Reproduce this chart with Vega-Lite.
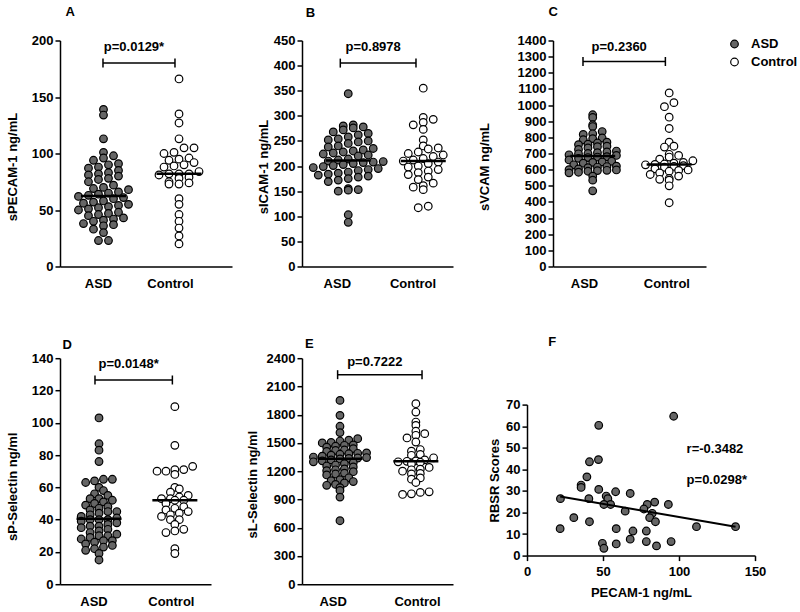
{
"$schema": "https://vega.github.io/schema/vega-lite/v6.json",
"padding": {"left": 6, "top": 5.5, "right": 0, "bottom": 0},
"background": "white",
"config": {
  "font": "Liberation Sans",
  "view": {"stroke": null},
  "axis": {"labelFont": "Liberation Sans", "labelFontSize": 13, "labelFontWeight": "bold", "labelColor": "#000", "titleFont": "Liberation Sans", "titleFontSize": 13, "titleFontWeight": "bold", "titleColor": "#000", "domainColor": "#000", "domainWidth": 1.5, "tickColor": "#000", "tickWidth": 1.5, "tickSize": 5, "grid": false, "labelPadding": 2, "labelOverlap": false},
  "title": {"font": "Liberation Sans", "fontSize": 13, "fontWeight": "bold", "color": "#000", "anchor": "start", "frame": "group", "baseline": "alphabetic"},
  "text": {"font": "Liberation Sans", "fontSize": 13, "fontWeight": "bold", "color": "#000"},
  "legend": {"labelFont": "Liberation Sans", "labelFontSize": 13, "labelFontWeight": "bold", "labelColor": "#000", "symbolSize": 58, "symbolStrokeColor": "#000", "symbolStrokeWidth": 1.2, "symbolType": "circle", "rowPadding": 4, "labelOffset": 10, "padding": 0}
},
"datasets": {
  "A": [
    {"group":"ASD","v":139},{"group":"ASD","v":134},{"group":"ASD","v":113},{"group":"ASD","v":101},{"group":"ASD","v":98},{"group":"ASD","v":96},{"group":"ASD","v":94},{"group":"ASD","v":91},{"group":"ASD","v":90},{"group":"ASD","v":88},{"group":"ASD","v":87},{"group":"ASD","v":85},{"group":"ASD","v":83},{"group":"ASD","v":82},{"group":"ASD","v":81},{"group":"ASD","v":80},{"group":"ASD","v":78},{"group":"ASD","v":77},{"group":"ASD","v":75},{"group":"ASD","v":72},{"group":"ASD","v":70},{"group":"ASD","v":69},{"group":"ASD","v":68},{"group":"ASD","v":66},{"group":"ASD","v":65},{"group":"ASD","v":64},{"group":"ASD","v":63},{"group":"ASD","v":62},{"group":"ASD","v":61},{"group":"ASD","v":60},{"group":"ASD","v":58},{"group":"ASD","v":57},{"group":"ASD","v":56},{"group":"ASD","v":55},{"group":"ASD","v":54},{"group":"ASD","v":53},{"group":"ASD","v":52},{"group":"ASD","v":51},{"group":"ASD","v":50},{"group":"ASD","v":48},{"group":"ASD","v":47},{"group":"ASD","v":46},{"group":"ASD","v":45},{"group":"ASD","v":43},{"group":"ASD","v":42},{"group":"ASD","v":41},{"group":"ASD","v":40},{"group":"ASD","v":38},{"group":"ASD","v":37},{"group":"ASD","v":36},{"group":"ASD","v":33},{"group":"ASD","v":30},{"group":"ASD","v":23},{"group":"ASD","v":23},
    {"group":"Control","v":166},{"group":"Control","v":135},{"group":"Control","v":127},{"group":"Control","v":113},{"group":"Control","v":105},{"group":"Control","v":105},{"group":"Control","v":101},{"group":"Control","v":100},{"group":"Control","v":96},{"group":"Control","v":95},{"group":"Control","v":94},{"group":"Control","v":92},{"group":"Control","v":90},{"group":"Control","v":89},{"group":"Control","v":88},{"group":"Control","v":84},{"group":"Control","v":82},{"group":"Control","v":82},{"group":"Control","v":82},{"group":"Control","v":81},{"group":"Control","v":79},{"group":"Control","v":78},{"group":"Control","v":75},{"group":"Control","v":74},{"group":"Control","v":73},{"group":"Control","v":73},{"group":"Control","v":60},{"group":"Control","v":55},{"group":"Control","v":46},{"group":"Control","v":40},{"group":"Control","v":34},{"group":"Control","v":27},{"group":"Control","v":20}
  ],
  "B": [
    {"group":"ASD","v":344},{"group":"ASD","v":282},{"group":"ASD","v":280},{"group":"ASD","v":278},{"group":"ASD","v":276},{"group":"ASD","v":272},{"group":"ASD","v":268},{"group":"ASD","v":265},{"group":"ASD","v":262},{"group":"ASD","v":258},{"group":"ASD","v":254},{"group":"ASD","v":252},{"group":"ASD","v":250},{"group":"ASD","v":248},{"group":"ASD","v":245},{"group":"ASD","v":240},{"group":"ASD","v":238},{"group":"ASD","v":235},{"group":"ASD","v":232},{"group":"ASD","v":230},{"group":"ASD","v":228},{"group":"ASD","v":226},{"group":"ASD","v":224},{"group":"ASD","v":222},{"group":"ASD","v":220},{"group":"ASD","v":214},{"group":"ASD","v":212},{"group":"ASD","v":210},{"group":"ASD","v":209},{"group":"ASD","v":208},{"group":"ASD","v":207},{"group":"ASD","v":205},{"group":"ASD","v":203},{"group":"ASD","v":201},{"group":"ASD","v":199},{"group":"ASD","v":197},{"group":"ASD","v":195},{"group":"ASD","v":193},{"group":"ASD","v":191},{"group":"ASD","v":188},{"group":"ASD","v":186},{"group":"ASD","v":184},{"group":"ASD","v":182},{"group":"ASD","v":180},{"group":"ASD","v":178},{"group":"ASD","v":175},{"group":"ASD","v":172},{"group":"ASD","v":169},{"group":"ASD","v":155},{"group":"ASD","v":153},{"group":"ASD","v":152},{"group":"ASD","v":150},{"group":"ASD","v":103},{"group":"ASD","v":88},
    {"group":"Control","v":355},{"group":"Control","v":297},{"group":"Control","v":293},{"group":"Control","v":287},{"group":"Control","v":282},{"group":"Control","v":273},{"group":"Control","v":252},{"group":"Control","v":240},{"group":"Control","v":236},{"group":"Control","v":234},{"group":"Control","v":228},{"group":"Control","v":225},{"group":"Control","v":222},{"group":"Control","v":219},{"group":"Control","v":215},{"group":"Control","v":212},{"group":"Control","v":210},{"group":"Control","v":208},{"group":"Control","v":205},{"group":"Control","v":200},{"group":"Control","v":198},{"group":"Control","v":193},{"group":"Control","v":190},{"group":"Control","v":187},{"group":"Control","v":183},{"group":"Control","v":178},{"group":"Control","v":173},{"group":"Control","v":166},{"group":"Control","v":161},{"group":"Control","v":158},{"group":"Control","v":153},{"group":"Control","v":120},{"group":"Control","v":117}
  ],
  "C": [
    {"group":"ASD","v":940},{"group":"ASD","v":923},{"group":"ASD","v":878},{"group":"ASD","v":867},{"group":"ASD","v":836},{"group":"ASD","v":822},{"group":"ASD","v":818},{"group":"ASD","v":796},{"group":"ASD","v":792},{"group":"ASD","v":785},{"group":"ASD","v":770},{"group":"ASD","v":765},{"group":"ASD","v":758},{"group":"ASD","v":755},{"group":"ASD","v":745},{"group":"ASD","v":742},{"group":"ASD","v":735},{"group":"ASD","v":725},{"group":"ASD","v":715},{"group":"ASD","v":710},{"group":"ASD","v":705},{"group":"ASD","v":700},{"group":"ASD","v":698},{"group":"ASD","v":692},{"group":"ASD","v":688},{"group":"ASD","v":680},{"group":"ASD","v":678},{"group":"ASD","v":675},{"group":"ASD","v":670},{"group":"ASD","v":660},{"group":"ASD","v":652},{"group":"ASD","v":648},{"group":"ASD","v":645},{"group":"ASD","v":640},{"group":"ASD","v":630},{"group":"ASD","v":622},{"group":"ASD","v":619},{"group":"ASD","v":616},{"group":"ASD","v":612},{"group":"ASD","v":605},{"group":"ASD","v":600},{"group":"ASD","v":598},{"group":"ASD","v":596},{"group":"ASD","v":594},{"group":"ASD","v":590},{"group":"ASD","v":584},{"group":"ASD","v":580},{"group":"ASD","v":560},{"group":"ASD","v":535},{"group":"ASD","v":469},
    {"group":"Control","v":1075},{"group":"Control","v":1015},{"group":"Control","v":990},{"group":"Control","v":925},{"group":"Control","v":855},{"group":"Control","v":770},{"group":"Control","v":745},{"group":"Control","v":740},{"group":"Control","v":695},{"group":"Control","v":688},{"group":"Control","v":678},{"group":"Control","v":665},{"group":"Control","v":655},{"group":"Control","v":645},{"group":"Control","v":640},{"group":"Control","v":635},{"group":"Control","v":632},{"group":"Control","v":630},{"group":"Control","v":625},{"group":"Control","v":620},{"group":"Control","v":615},{"group":"Control","v":605},{"group":"Control","v":598},{"group":"Control","v":595},{"group":"Control","v":590},{"group":"Control","v":580},{"group":"Control","v":570},{"group":"Control","v":560},{"group":"Control","v":545},{"group":"Control","v":540},{"group":"Control","v":535},{"group":"Control","v":500},{"group":"Control","v":395}
  ],
  "D": [
    {"group":"ASD","v":103},{"group":"ASD","v":87},{"group":"ASD","v":83},{"group":"ASD","v":76},{"group":"ASD","v":65},{"group":"ASD","v":65},{"group":"ASD","v":64},{"group":"ASD","v":63},{"group":"ASD","v":60},{"group":"ASD","v":58},{"group":"ASD","v":56},{"group":"ASD","v":55},{"group":"ASD","v":53},{"group":"ASD","v":53},{"group":"ASD","v":52},{"group":"ASD","v":51},{"group":"ASD","v":50},{"group":"ASD","v":49},{"group":"ASD","v":48},{"group":"ASD","v":47},{"group":"ASD","v":46},{"group":"ASD","v":45},{"group":"ASD","v":45},{"group":"ASD","v":44},{"group":"ASD","v":43},{"group":"ASD","v":42},{"group":"ASD","v":41},{"group":"ASD","v":40},{"group":"ASD","v":40},{"group":"ASD","v":40},{"group":"ASD","v":39},{"group":"ASD","v":38},{"group":"ASD","v":37},{"group":"ASD","v":36},{"group":"ASD","v":36},{"group":"ASD","v":35},{"group":"ASD","v":34},{"group":"ASD","v":33},{"group":"ASD","v":32},{"group":"ASD","v":31},{"group":"ASD","v":30},{"group":"ASD","v":30},{"group":"ASD","v":29},{"group":"ASD","v":28},{"group":"ASD","v":27},{"group":"ASD","v":27},{"group":"ASD","v":26},{"group":"ASD","v":25},{"group":"ASD","v":24},{"group":"ASD","v":23},{"group":"ASD","v":22},{"group":"ASD","v":21},{"group":"ASD","v":19},{"group":"ASD","v":15},
    {"group":"Control","v":110},{"group":"Control","v":86},{"group":"Control","v":73},{"group":"Control","v":71},{"group":"Control","v":71},{"group":"Control","v":70},{"group":"Control","v":70},{"group":"Control","v":68},{"group":"Control","v":60},{"group":"Control","v":59},{"group":"Control","v":57},{"group":"Control","v":55},{"group":"Control","v":54},{"group":"Control","v":53},{"group":"Control","v":53},{"group":"Control","v":52},{"group":"Control","v":52},{"group":"Control","v":50},{"group":"Control","v":48},{"group":"Control","v":47},{"group":"Control","v":46},{"group":"Control","v":45},{"group":"Control","v":44},{"group":"Control","v":43},{"group":"Control","v":42},{"group":"Control","v":40},{"group":"Control","v":40},{"group":"Control","v":37},{"group":"Control","v":34},{"group":"Control","v":33},{"group":"Control","v":32},{"group":"Control","v":22},{"group":"Control","v":19}
  ],
  "E": [
    {"group":"ASD","v":1952},{"group":"ASD","v":1793},{"group":"ASD","v":1677},{"group":"ASD","v":1610},{"group":"ASD","v":1545},{"group":"ASD","v":1530},{"group":"ASD","v":1520},{"group":"ASD","v":1505},{"group":"ASD","v":1500},{"group":"ASD","v":1480},{"group":"ASD","v":1475},{"group":"ASD","v":1465},{"group":"ASD","v":1455},{"group":"ASD","v":1440},{"group":"ASD","v":1425},{"group":"ASD","v":1420},{"group":"ASD","v":1410},{"group":"ASD","v":1395},{"group":"ASD","v":1390},{"group":"ASD","v":1385},{"group":"ASD","v":1380},{"group":"ASD","v":1370},{"group":"ASD","v":1360},{"group":"ASD","v":1350},{"group":"ASD","v":1345},{"group":"ASD","v":1340},{"group":"ASD","v":1335},{"group":"ASD","v":1330},{"group":"ASD","v":1320},{"group":"ASD","v":1310},{"group":"ASD","v":1300},{"group":"ASD","v":1290},{"group":"ASD","v":1280},{"group":"ASD","v":1265},{"group":"ASD","v":1255},{"group":"ASD","v":1245},{"group":"ASD","v":1225},{"group":"ASD","v":1215},{"group":"ASD","v":1205},{"group":"ASD","v":1195},{"group":"ASD","v":1180},{"group":"ASD","v":1170},{"group":"ASD","v":1160},{"group":"ASD","v":1130},{"group":"ASD","v":1110},{"group":"ASD","v":1100},{"group":"ASD","v":1090},{"group":"ASD","v":1075},{"group":"ASD","v":1060},{"group":"ASD","v":1050},{"group":"ASD","v":1025},{"group":"ASD","v":995},{"group":"ASD","v":925},{"group":"ASD","v":674},
    {"group":"Control","v":1917},{"group":"Control","v":1828},{"group":"Control","v":1722},{"group":"Control","v":1687},{"group":"Control","v":1624},{"group":"Control","v":1599},{"group":"Control","v":1581},{"group":"Control","v":1553},{"group":"Control","v":1510},{"group":"Control","v":1430},{"group":"Control","v":1412},{"group":"Control","v":1377},{"group":"Control","v":1369},{"group":"Control","v":1342},{"group":"Control","v":1320},{"group":"Control","v":1310},{"group":"Control","v":1305},{"group":"Control","v":1300},{"group":"Control","v":1295},{"group":"Control","v":1280},{"group":"Control","v":1240},{"group":"Control","v":1221},{"group":"Control","v":1215},{"group":"Control","v":1200},{"group":"Control","v":1176},{"group":"Control","v":1170},{"group":"Control","v":1129},{"group":"Control","v":1115},{"group":"Control","v":1080},{"group":"Control","v":981},{"group":"Control","v":975},{"group":"Control","v":960},{"group":"Control","v":953}
  ],
  "F": [
    {"pecam":96.5,"rbsr":64.6},{"pecam":47.2,"rbsr":60.4},{"pecam":47,"rbsr":44.5},{"pecam":41.1,"rbsr":43.5},{"pecam":39.4,"rbsr":36.5},{"pecam":35.6,"rbsr":32.7},{"pecam":35.6,"rbsr":31.6},{"pecam":47.2,"rbsr":30.7},{"pecam":58.3,"rbsr":29.6},{"pecam":67.9,"rbsr":28.8},{"pecam":52.1,"rbsr":27.6},{"pecam":53.2,"rbsr":26.4},{"pecam":40.7,"rbsr":26.4},{"pecam":22,"rbsr":26.4},{"pecam":55,"rbsr":23.7},{"pecam":50.6,"rbsr":23.7},{"pecam":84,"rbsr":24.8},{"pecam":79.1,"rbsr":23.7},{"pecam":93,"rbsr":23.7},{"pecam":76.9,"rbsr":21.6},{"pecam":64.6,"rbsr":20.6},{"pecam":82.4,"rbsr":19.6},{"pecam":80.7,"rbsr":17.6},{"pecam":30.8,"rbsr":17.6},{"pecam":41.1,"rbsr":15.7},{"pecam":84.5,"rbsr":15.7},{"pecam":111.5,"rbsr":13.4},{"pecam":137.2,"rbsr":13.4},{"pecam":21.8,"rbsr":12.5},{"pecam":58.7,"rbsr":12.5},{"pecam":69.7,"rbsr":11.4},{"pecam":78.5,"rbsr":11.4},{"pecam":67.9,"rbsr":7.6},{"pecam":49.6,"rbsr":5.7},{"pecam":58.7,"rbsr":5.4},{"pecam":78.5,"rbsr":6.5},{"pecam":94.8,"rbsr":6.5},{"pecam":50.6,"rbsr":3.4},{"pecam":85.2,"rbsr":4.5}
  ],
  "Ftxt": [
    {"label":"r=-0.3482","pecam":105,"rbsr":49.2},{"label":"p=0.0298*","pecam":105,"rbsr":35}
  ],
  "brk": [
    {"panel":"A","from":"ASD","to":"Control","v":180,"label":"p=0.0129*"},
    {"panel":"B","from":"ASD","to":"Control","v":405,"label":"p=0.8978"},
    {"panel":"C","from":"ASD","to":"Control","v":1270,"label":"p=0.2360"},
    {"panel":"D","from":"ASD","to":"Control","v":126.5,"label":"p=0.0148*"},
    {"panel":"E","from":"ASD","to":"Control","v":2225,"label":"p=0.7222"}
  ]
},
"spacing": 44.7,
"vconcat": [
 {"spacing": 25, "resolve": {"legend": {"fill": "independent"}}, "hconcat": [
  {"width": 172, "height": 226,
   "title": {"text": "A", "dx": 5.5, "offset": 15.3},
   "layer": [
    {"data": {"name": "A"},
     "transform": [
       {"bin": {"step": 6.2}, "field": "v", "as": "row"},
       {"window": [{"op": "row_number", "as": "rank"}], "groupby": ["group", "row"], "sort": [{"field": "v", "order": "ascending"}]},
       {"joinaggregate": [{"op": "count", "as": "cnt"}], "groupby": ["group", "row"]},
       {"calculate": "(datum.group === 'ASD' ? 1.007 : 2.056) + 0.139 * (datum.rank - (datum.cnt + 1) / 2)", "as": "px"}
     ],
     "mark": {"type": "point", "shape": "circle", "filled": true, "size": 58, "stroke": "#000", "strokeWidth": 1.2, "opacity": 1},
     "encoding": {
       "x": {"field": "px", "type": "quantitative", "scale": {"domain": [0.403, 2.792], "nice": false, "zero": false}, "axis": {"values": [1, 2], "labelExpr": "datum.value == 1 ? 'ASD' : 'Control'", "ticks": false, "tickSize": 0, "labelPadding": 11, "labelOffset": -5, "labelFlush": false, "title": null}},
       "y": {"field": "v", "type": "quantitative", "scale": {"domain": [0, 200], "nice": false}, "axis": {"values": [0, 50, 100, 150, 200], "tickCount": 50, "labelOverlap": false, "format": "d", "title": "sPECAM-1 ng/mL", "titlePadding": 12.3, "titleY": 126}},
       "fill": {"field": "group", "type": "nominal", "scale": {"domain": ["ASD", "Control"], "range": ["#666666", "#ffffff"]}, "legend": null}
     }},
    {"data": {"name": "A"},
     "transform": [{"aggregate": [{"op": "median", "field": "v", "as": "v"}], "groupby": ["group"]}, {"calculate": "datum.group === 'ASD' ? 1.007 : 2.056", "as": "px"}],
     "mark": {"type": "tick", "orient": "horizontal", "size": 45, "thickness": 2.5, "color": "#000", "opacity": 1},
     "encoding": {"x": {"field": "px", "type": "quantitative"}, "y": {"field": "v", "type": "quantitative"}}},
    {"data": {"name": "brk"},
     "transform": [{"filter": "datum.panel === 'A'"}, {"calculate": "datum.from === 'ASD' ? 1 : 2", "as": "px"}, {"calculate": "datum.to === 'ASD' ? 1 : 2", "as": "px2"}],
     "mark": {"type": "rule", "strokeWidth": 1.5, "color": "#000"},
     "encoding": {"x": {"field": "px", "type": "quantitative"}, "x2": {"field": "px2"}, "y": {"field": "v", "type": "quantitative"}}},
    {"data": {"name": "brk"},
     "transform": [{"filter": "datum.panel === 'A'"}, {"fold": ["from", "to"], "as": ["end", "grp"]}, {"calculate": "datum.grp === 'ASD' ? 1 : 2", "as": "px"}],
     "mark": {"type": "tick", "orient": "vertical", "size": 9, "thickness": 1.5, "color": "#000", "opacity": 1},
     "encoding": {"x": {"field": "px", "type": "quantitative"}, "y": {"field": "v", "type": "quantitative"}}},
    {"data": {"name": "brk"},
     "transform": [{"filter": "datum.panel === 'A'"}, {"calculate": "((datum.from === 'ASD' ? 1 : 2) + (datum.to === 'ASD' ? 1 : 2)) / 2", "as": "px"}],
     "mark": {"type": "text", "dy": -16, "dx": -5, "baseline": "middle", "align": "center"},
     "encoding": {"x": {"field": "px", "type": "quantitative"}, "y": {"field": "v", "type": "quantitative"}, "text": {"field": "label"}}}
   ]},
  {"width": 151, "height": 226,
   "title": {"text": "B", "dx": 3.8, "offset": 14.5},
   "layer": [
    {"data": {"name": "B"},
     "transform": [
       {"bin": {"step": 14}, "field": "v", "as": "row"},
       {"window": [{"op": "row_number", "as": "rank"}], "groupby": ["group", "row"], "sort": [{"field": "v", "order": "ascending"}]},
       {"joinaggregate": [{"op": "count", "as": "cnt"}], "groupby": ["group", "row"]},
       {"calculate": "(datum.group === 'ASD' ? 1.105 : 2.096) + 0.132 * (datum.rank - (datum.cnt + 1) / 2)", "as": "px"}
     ],
     "mark": {"type": "point", "shape": "circle", "filled": true, "size": 58, "stroke": "#000", "strokeWidth": 1.2, "opacity": 1},
     "encoding": {
       "x": {"field": "px", "type": "quantitative", "scale": {"domain": [0.494, 2.489], "nice": false, "zero": false}, "axis": {"values": [1, 2], "labelExpr": "datum.value == 1 ? 'ASD' : 'Control'", "ticks": false, "tickSize": 0, "labelPadding": 11, "labelOffset": -3.5, "labelFlush": false, "title": null}},
       "y": {"field": "v", "type": "quantitative", "scale": {"domain": [0, 450], "nice": false}, "axis": {"values": [0, 50, 100, 150, 200, 250, 300, 350, 400, 450], "tickCount": 50, "labelOverlap": false, "format": "d", "title": "sICAM-1 ng/mL", "titlePadding": 2.4, "titleY": 126}},
       "fill": {"field": "group", "type": "nominal", "scale": {"domain": ["ASD", "Control"], "range": ["#666666", "#ffffff"]}, "legend": null}
     }},
    {"data": {"name": "B"},
     "transform": [{"aggregate": [{"op": "median", "field": "v", "as": "v"}], "groupby": ["group"]}, {"calculate": "datum.group === 'ASD' ? 1.105 : 2.096", "as": "px"}],
     "mark": {"type": "tick", "orient": "horizontal", "size": 45, "thickness": 2.5, "color": "#000", "opacity": 1},
     "encoding": {"x": {"field": "px", "type": "quantitative"}, "y": {"field": "v", "type": "quantitative"}}},
    {"data": {"name": "brk"},
     "transform": [{"filter": "datum.panel === 'B'"}, {"calculate": "datum.from === 'ASD' ? 1 : 2", "as": "px"}, {"calculate": "datum.to === 'ASD' ? 1 : 2", "as": "px2"}],
     "mark": {"type": "rule", "strokeWidth": 1.5, "color": "#000"},
     "encoding": {"x": {"field": "px", "type": "quantitative"}, "x2": {"field": "px2"}, "y": {"field": "v", "type": "quantitative"}}},
    {"data": {"name": "brk"},
     "transform": [{"filter": "datum.panel === 'B'"}, {"fold": ["from", "to"], "as": ["end", "grp"]}, {"calculate": "datum.grp === 'ASD' ? 1 : 2", "as": "px"}],
     "mark": {"type": "tick", "orient": "vertical", "size": 9, "thickness": 1.5, "color": "#000", "opacity": 1},
     "encoding": {"x": {"field": "px", "type": "quantitative"}, "y": {"field": "v", "type": "quantitative"}}},
    {"data": {"name": "brk"},
     "transform": [{"filter": "datum.panel === 'B'"}, {"calculate": "((datum.from === 'ASD' ? 1 : 2) + (datum.to === 'ASD' ? 1 : 2)) / 2", "as": "px"}],
     "mark": {"type": "text", "dy": -16, "dx": -5, "baseline": "middle", "align": "center"},
     "encoding": {"x": {"field": "px", "type": "quantitative"}, "y": {"field": "v", "type": "quantitative"}, "text": {"field": "label"}}}
   ]},
  {"width": 153, "height": 226,
   "title": {"text": "C", "dx": -4.6, "offset": 15.8},
   "layer": [
    {"data": {"name": "C"},
     "transform": [
       {"bin": {"step": 30}, "field": "v", "as": "row"},
       {"window": [{"op": "row_number", "as": "rank"}], "groupby": ["group", "row"], "sort": [{"field": "v", "order": "ascending"}]},
       {"joinaggregate": [{"op": "count", "as": "cnt"}], "groupby": ["group", "row"]},
       {"calculate": "(datum.group === 'ASD' ? 1.118 : 2.046) + 0.115 * (datum.rank - (datum.cnt + 1) / 2)", "as": "px"}
     ],
     "mark": {"type": "point", "shape": "circle", "filled": true, "size": 58, "stroke": "#000", "strokeWidth": 1.2, "opacity": 1},
     "encoding": {
       "x": {"field": "px", "type": "quantitative", "scale": {"domain": [0.636, 2.493], "nice": false, "zero": false}, "axis": {"values": [1, 2], "labelExpr": "datum.value == 1 ? 'ASD' : 'Control'", "ticks": false, "tickSize": 0, "labelPadding": 11, "labelOffset": 1, "labelFlush": false, "title": null}},
       "y": {"field": "v", "type": "quantitative", "scale": {"domain": [0, 1400], "nice": false}, "axis": {"values": [0, 100, 200, 300, 400, 500, 600, 700, 800, 900, 1000, 1100, 1200, 1300, 1400], "tickCount": 50, "labelOverlap": false, "format": "d", "title": "sVCAM ng/mL", "titlePadding": 25.5, "titleY": 126}},
       "fill": {"field": "group", "type": "nominal", "scale": {"domain": ["ASD", "Control"], "range": ["#666666", "#ffffff"]}, "legend": {"title": null, "orient": "none", "legendX": 175, "legendY": -3}}
     }},
    {"data": {"name": "C"},
     "transform": [{"aggregate": [{"op": "median", "field": "v", "as": "v"}], "groupby": ["group"]}, {"calculate": "datum.group === 'ASD' ? 1.118 : 2.046", "as": "px"}],
     "mark": {"type": "tick", "orient": "horizontal", "size": 45, "thickness": 2.5, "color": "#000", "opacity": 1},
     "encoding": {"x": {"field": "px", "type": "quantitative"}, "y": {"field": "v", "type": "quantitative"}}},
    {"data": {"name": "brk"},
     "transform": [{"filter": "datum.panel === 'C'"}, {"calculate": "datum.from === 'ASD' ? 1 : 2", "as": "px"}, {"calculate": "datum.to === 'ASD' ? 1 : 2", "as": "px2"}],
     "mark": {"type": "rule", "strokeWidth": 1.5, "color": "#000"},
     "encoding": {"x": {"field": "px", "type": "quantitative"}, "x2": {"field": "px2"}, "y": {"field": "v", "type": "quantitative"}}},
    {"data": {"name": "brk"},
     "transform": [{"filter": "datum.panel === 'C'"}, {"fold": ["from", "to"], "as": ["end", "grp"]}, {"calculate": "datum.grp === 'ASD' ? 1 : 2", "as": "px"}],
     "mark": {"type": "tick", "orient": "vertical", "size": 9, "thickness": 1.5, "color": "#000", "opacity": 1},
     "encoding": {"x": {"field": "px", "type": "quantitative"}, "y": {"field": "v", "type": "quantitative"}}},
    {"data": {"name": "brk"},
     "transform": [{"filter": "datum.panel === 'C'"}, {"calculate": "((datum.from === 'ASD' ? 1 : 2) + (datum.to === 'ASD' ? 1 : 2)) / 2", "as": "px"}],
     "mark": {"type": "text", "dy": -14, "dx": -5, "baseline": "middle", "align": "center"},
     "encoding": {"x": {"field": "px", "type": "quantitative"}, "y": {"field": "v", "type": "quantitative"}, "text": {"field": "label"}}}
   ]}
 ]},
 {"spacing": 35, "hconcat": [
  {"width": 151, "height": 226,
   "title": {"text": "D", "dx": 2.5, "offset": 0.7},
   "layer": [
    {"data": {"name": "D"},
     "transform": [
       {"bin": {"step": 3.5}, "field": "v", "as": "row"},
       {"window": [{"op": "row_number", "as": "rank"}], "groupby": ["group", "row"], "sort": [{"field": "v", "order": "ascending"}]},
       {"joinaggregate": [{"op": "count", "as": "cnt"}], "groupby": ["group", "row"]},
       {"calculate": "(datum.group === 'ASD' ? 1.052 : 2.032) + 0.115 * (datum.rank - (datum.cnt + 1) / 2)", "as": "px"}
     ],
     "mark": {"type": "point", "shape": "circle", "filled": true, "size": 58, "stroke": "#000", "strokeWidth": 1.2, "opacity": 1},
     "encoding": {
       "x": {"field": "px", "type": "quantitative", "scale": {"domain": [0.548, 2.499], "nice": false, "zero": false}, "axis": {"values": [1, 2], "labelExpr": "datum.value == 1 ? 'ASD' : 'Control'", "ticks": false, "tickSize": 0, "labelPadding": 11, "labelOffset": -1.5, "labelFlush": false, "title": null}},
       "y": {"field": "v", "type": "quantitative", "scale": {"domain": [0, 140], "nice": false}, "axis": {"values": [0, 20, 40, 60, 80, 100, 120, 140], "tickCount": 50, "labelOverlap": false, "format": "d", "title": "sP-Selectin ng/ml", "titlePadding": 12.3, "titleY": 128}},
       "fill": {"field": "group", "type": "nominal", "scale": {"domain": ["ASD", "Control"], "range": ["#666666", "#ffffff"]}, "legend": null}
     }},
    {"data": {"name": "D"},
     "transform": [{"aggregate": [{"op": "median", "field": "v", "as": "v"}], "groupby": ["group"]}, {"calculate": "datum.group === 'ASD' ? 1.052 : 2.032", "as": "px"}],
     "mark": {"type": "tick", "orient": "horizontal", "size": 45, "thickness": 2.5, "color": "#000", "opacity": 1},
     "encoding": {"x": {"field": "px", "type": "quantitative"}, "y": {"field": "v", "type": "quantitative"}}},
    {"data": {"name": "brk"},
     "transform": [{"filter": "datum.panel === 'D'"}, {"calculate": "datum.from === 'ASD' ? 1 : 2", "as": "px"}, {"calculate": "datum.to === 'ASD' ? 1 : 2", "as": "px2"}],
     "mark": {"type": "rule", "strokeWidth": 1.5, "color": "#000"},
     "encoding": {"x": {"field": "px", "type": "quantitative"}, "x2": {"field": "px2"}, "y": {"field": "v", "type": "quantitative"}}},
    {"data": {"name": "brk"},
     "transform": [{"filter": "datum.panel === 'D'"}, {"fold": ["from", "to"], "as": ["end", "grp"]}, {"calculate": "datum.grp === 'ASD' ? 1 : 2", "as": "px"}],
     "mark": {"type": "tick", "orient": "vertical", "size": 9, "thickness": 1.5, "color": "#000", "opacity": 1},
     "encoding": {"x": {"field": "px", "type": "quantitative"}, "y": {"field": "v", "type": "quantitative"}}},
    {"data": {"name": "brk"},
     "transform": [{"filter": "datum.panel === 'D'"}, {"calculate": "((datum.from === 'ASD' ? 1 : 2) + (datum.to === 'ASD' ? 1 : 2)) / 2", "as": "px"}],
     "mark": {"type": "text", "dy": -16, "dx": -5, "baseline": "middle", "align": "center"},
     "encoding": {"x": {"field": "px", "type": "quantitative"}, "y": {"field": "v", "type": "quantitative"}, "text": {"field": "label"}}}
   ]},
  {"width": 151, "height": 226,
   "title": {"text": "E", "dx": 3, "offset": 1},
   "layer": [
    {"data": {"name": "E"},
     "transform": [
       {"bin": {"step": 50}, "field": "v", "as": "row"},
       {"window": [{"op": "row_number", "as": "rank"}], "groupby": ["group", "row"], "sort": [{"field": "v", "order": "ascending"}]},
       {"joinaggregate": [{"op": "count", "as": "cnt"}], "groupby": ["group", "row"]},
       {"calculate": "(datum.group === 'ASD' ? 1.028 : 1.927) + 0.105 * (datum.rank - (datum.cnt + 1) / 2)", "as": "px"}
     ],
     "mark": {"type": "point", "shape": "circle", "filled": true, "size": 58, "stroke": "#000", "strokeWidth": 1.2, "opacity": 1},
     "encoding": {
       "x": {"field": "px", "type": "quantitative", "scale": {"domain": [0.578, 2.367], "nice": false, "zero": false}, "axis": {"values": [1, 2], "labelExpr": "datum.value == 1 ? 'ASD' : 'Control'", "ticks": false, "tickSize": 0, "labelPadding": 11, "labelOffset": -5, "labelFlush": false, "title": null}},
       "y": {"field": "v", "type": "quantitative", "scale": {"domain": [0, 2400], "nice": false}, "axis": {"values": [0, 300, 600, 900, 1200, 1500, 1800, 2100, 2400], "tickCount": 50, "labelOverlap": false, "format": "d", "title": "sL-Selectin ng/ml", "titlePadding": 6.3, "titleY": 126}},
       "fill": {"field": "group", "type": "nominal", "scale": {"domain": ["ASD", "Control"], "range": ["#666666", "#ffffff"]}, "legend": null}
     }},
    {"data": {"name": "E"},
     "transform": [{"aggregate": [{"op": "median", "field": "v", "as": "v"}], "groupby": ["group"]}, {"calculate": "datum.group === 'ASD' ? 1.028 : 1.927", "as": "px"}],
     "mark": {"type": "tick", "orient": "horizontal", "size": 45, "thickness": 2.5, "color": "#000", "opacity": 1},
     "encoding": {"x": {"field": "px", "type": "quantitative"}, "y": {"field": "v", "type": "quantitative"}}},
    {"data": {"name": "brk"},
     "transform": [{"filter": "datum.panel === 'E'"}, {"calculate": "datum.from === 'ASD' ? 1 : 2", "as": "px"}, {"calculate": "datum.to === 'ASD' ? 1 : 2", "as": "px2"}],
     "mark": {"type": "rule", "strokeWidth": 1.5, "color": "#000"},
     "encoding": {"x": {"field": "px", "type": "quantitative"}, "x2": {"field": "px2"}, "y": {"field": "v", "type": "quantitative"}}},
    {"data": {"name": "brk"},
     "transform": [{"filter": "datum.panel === 'E'"}, {"fold": ["from", "to"], "as": ["end", "grp"]}, {"calculate": "datum.grp === 'ASD' ? 1 : 2", "as": "px"}],
     "mark": {"type": "tick", "orient": "vertical", "size": 9, "thickness": 1.5, "color": "#000", "opacity": 1},
     "encoding": {"x": {"field": "px", "type": "quantitative"}, "y": {"field": "v", "type": "quantitative"}}},
    {"data": {"name": "brk"},
     "transform": [{"filter": "datum.panel === 'E'"}, {"calculate": "((datum.from === 'ASD' ? 1 : 2) + (datum.to === 'ASD' ? 1 : 2)) / 2", "as": "px"}],
     "mark": {"type": "text", "dy": -13, "dx": -5, "baseline": "middle", "align": "center"},
     "encoding": {"x": {"field": "px", "type": "quantitative"}, "y": {"field": "v", "type": "quantitative"}, "text": {"field": "label"}}}
   ]},
  {"spacing": 20.4, "vconcat": [
    {"width": 228, "height": 20,
     "title": {"text": "F", "dx": 21.3, "offset": 9.7},
     "data": {"values": []},
     "mark": "point"},
    {"width": 228, "height": 151,
     "layer": [
      {"data": {"name": "F"},
       "mark": {"type": "point", "shape": "circle", "filled": true, "size": 58, "fill": "#666666", "stroke": "#000", "strokeWidth": 1.2, "opacity": 1},
       "encoding": {
         "x": {"field": "pecam", "type": "quantitative", "scale": {"domain": [0, 150], "nice": false}, "axis": {"values": [0, 50, 100, 150], "tickCount": 50, "labelOverlap": false, "format": "d", "title": "PECAM-1 ng/mL", "tickSize": 5, "labelPadding": 5, "labelFlush": false, "titlePadding": 8}},
         "y": {"field": "rbsr", "type": "quantitative", "scale": {"domain": [0, 70], "nice": false}, "axis": {"values": [0, 10, 20, 30, 40, 50, 60, 70], "tickCount": 50, "labelOverlap": false, "format": "d", "title": "RBSR Scores", "titlePadding": 4.5}}
       }},
      {"data": {"name": "F"},
       "transform": [{"regression": "rbsr", "on": "pecam"}],
       "mark": {"type": "line", "color": "#000", "strokeWidth": 2},
       "encoding": {"x": {"field": "pecam", "type": "quantitative"}, "y": {"field": "rbsr", "type": "quantitative"}}},
      {"data": {"name": "Ftxt"},
       "mark": {"type": "text", "align": "left", "baseline": "middle"},
       "encoding": {"x": {"field": "pecam", "type": "quantitative"}, "y": {"field": "rbsr", "type": "quantitative"}, "text": {"field": "label"}}}
     ]}
  ]}
 ]}
]
}
